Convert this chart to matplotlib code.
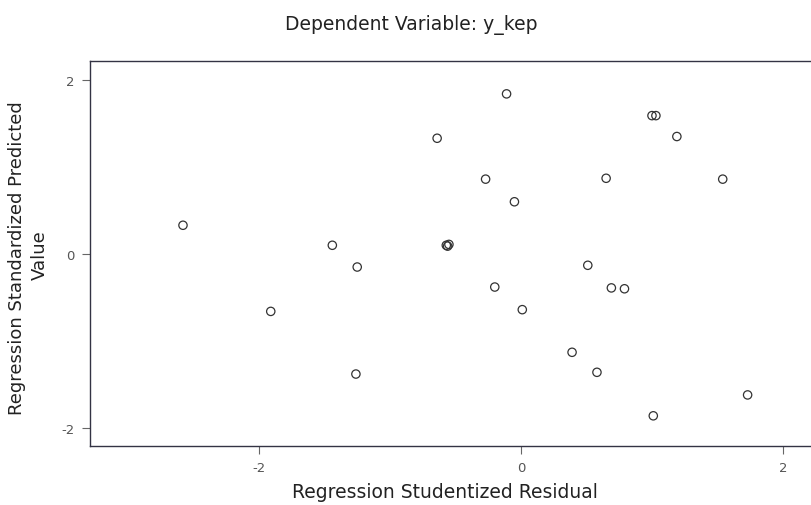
import numpy as np
import matplotlib.pyplot as plt

# regression studentized residual (x) vs standardized predicted value (y)
resid = [-2.58, -1.91, -1.44, -1.25, -1.26, -0.64, -0.57, -0.55, -0.56, -0.27,
         -0.20, -0.11, -0.05, 0.01, 0.39, 0.51, 0.58, 0.65, 0.69, 0.79,
         1.00, 1.03, 1.01, 1.19, 1.54, 1.73]
pred = [0.33, -0.66, 0.10, -0.15, -1.38, 1.33, 0.10, 0.11, 0.09, 0.86,
        -0.38, 1.84, 0.60, -0.64, -1.13, -0.13, -1.36, 0.87, -0.39, -0.40,
        1.59, 1.59, -1.86, 1.35, 0.86, -1.62]
xticks = [-2, 0, 2]
yticks = [-2, 0, 2]

plt.rcParams['font.family'] = ['DejaVu Sans']
plt.rcParams['axes.unicode_minus'] = False
W, H = 812, 506
fig = plt.figure(figsize=(W / 100, H / 100), dpi=100)
ax = fig.add_axes([0.1108, 0.1166, 0.918, 0.7609])
ax.scatter(resid, pred, s=36, facecolors='none', edgecolors='#333333', linewidths=0.9)
ax.set_xlim(-3.29, 2.4)
ax.set_ylim(-2.207, 2.218)
ax.set_xticks(xticks)
ax.set_yticks(yticks)
ax.tick_params(direction='out', length=6, width=0.8, color='#666666',
               labelcolor='#555555', labelsize=9.5, pad=5)
for s in ax.spines.values():
    s.set_color('#333344')
    s.set_linewidth(1.0)

txt = dict(color='#222222', ha='center', va='center')
fig.text(411 / W, 1 - 25 / H, 'Dependent Variable: y_kep', fontsize=13.5, **txt)
fig.text(445 / W, 1 - 493 / H, 'Regression Studentized Residual', fontsize=13.5, **txt)
fig.text(17 / W, 1 - 258 / H, 'Regression Standardized Predicted', fontsize=13,
         rotation=90, **txt)
fig.text(40 / W, 1 - 255 / H, 'Value', fontsize=13, rotation=90, **txt)
plt.savefig('out.png', dpi=100)
